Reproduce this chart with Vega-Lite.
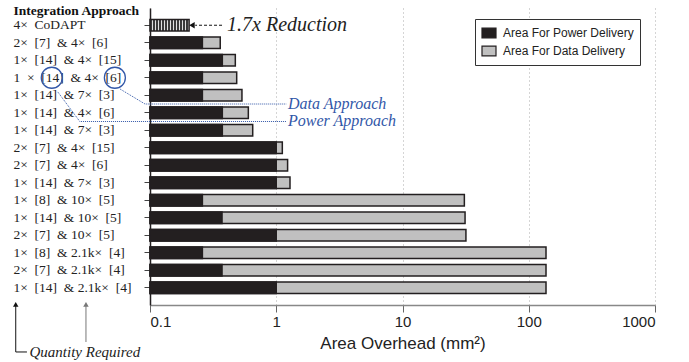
{
  "$schema": "https://vega.github.io/schema/vega-lite/v6.json",
  "width": 505,
  "height": 297,
  "autosize": {"type": "none"},
  "padding": {"left": 150, "top": 8, "right": 34, "bottom": 57},
  "background": "white",
  "config": {"view": {"stroke": null}},
  "datasets": {
    "bars": [
      {"label": "4×\u00a0 CoDAPT", "part": "CoDAPT", "value": 0.204},
      {"label": "2×\u00a0 [7] \u00a0& 4×\u00a0 [6]", "part": "Area For Data Delivery", "value": 0.36},
      {"label": "2×\u00a0 [7] \u00a0& 4×\u00a0 [6]", "part": "Area For Power Delivery", "value": 0.26},
      {"label": "1×\u00a0 [14] \u00a0& 4×\u00a0 [15]", "part": "Area For Data Delivery", "value": 0.474},
      {"label": "1×\u00a0 [14] \u00a0& 4×\u00a0 [15]", "part": "Area For Power Delivery", "value": 0.374},
      {"label": "1\u00a0 ×\u00a0 [14] \u00a0& 4×\u00a0 [6]", "part": "Area For Data Delivery", "value": 0.486},
      {"label": "1\u00a0 ×\u00a0 [14] \u00a0& 4×\u00a0 [6]", "part": "Area For Power Delivery", "value": 0.26},
      {"label": "1×\u00a0 [14] \u00a0& 7×\u00a0 [3]", "part": "Area For Data Delivery", "value": 0.535},
      {"label": "1×\u00a0 [14] \u00a0& 7×\u00a0 [3]", "part": "Area For Power Delivery", "value": 0.26},
      {"label": "1×\u00a0 [14] \u00a0& 4×\u00a0 [6]", "part": "Area For Data Delivery", "value": 0.601},
      {"label": "1×\u00a0 [14] \u00a0& 4×\u00a0 [6]", "part": "Area For Power Delivery", "value": 0.374},
      {"label": "1×\u00a0 [14] \u00a0& 7×\u00a0 [3]\u00a0", "part": "Area For Data Delivery", "value": 0.651},
      {"label": "1×\u00a0 [14] \u00a0& 7×\u00a0 [3]\u00a0", "part": "Area For Power Delivery", "value": 0.374},
      {"label": "2×\u00a0 [7] \u00a0& 4×\u00a0 [15]", "part": "Area For Data Delivery", "value": 1.117},
      {"label": "2×\u00a0 [7] \u00a0& 4×\u00a0 [15]", "part": "Area For Power Delivery", "value": 1.0},
      {"label": "2×\u00a0 [7] \u00a0& 4×\u00a0 [6]\u00a0", "part": "Area For Data Delivery", "value": 1.23},
      {"label": "2×\u00a0 [7] \u00a0& 4×\u00a0 [6]\u00a0", "part": "Area For Power Delivery", "value": 1.0},
      {"label": "1×\u00a0 [14] \u00a0& 7×\u00a0 [3]\u00a0\u00a0", "part": "Area For Data Delivery", "value": 1.285},
      {"label": "1×\u00a0 [14] \u00a0& 7×\u00a0 [3]\u00a0\u00a0", "part": "Area For Power Delivery", "value": 1.0},
      {"label": "1×\u00a0 [8] \u00a0& 10×\u00a0 [5]", "part": "Area For Data Delivery", "value": 30.9},
      {"label": "1×\u00a0 [8] \u00a0& 10×\u00a0 [5]", "part": "Area For Power Delivery", "value": 0.26},
      {"label": "1×\u00a0 [14] \u00a0& 10×\u00a0 [5]", "part": "Area For Data Delivery", "value": 31.3},
      {"label": "1×\u00a0 [14] \u00a0& 10×\u00a0 [5]", "part": "Area For Power Delivery", "value": 0.372},
      {"label": "2×\u00a0 [7] \u00a0& 10×\u00a0 [5]", "part": "Area For Data Delivery", "value": 31.8},
      {"label": "2×\u00a0 [7] \u00a0& 10×\u00a0 [5]", "part": "Area For Power Delivery", "value": 1.0},
      {"label": "1×\u00a0 [8] \u00a0& 2.1k×\u00a0 [4]", "part": "Area For Data Delivery", "value": 137},
      {"label": "1×\u00a0 [8] \u00a0& 2.1k×\u00a0 [4]", "part": "Area For Power Delivery", "value": 0.26},
      {"label": "2×\u00a0 [7] \u00a0& 2.1k×\u00a0 [4]", "part": "Area For Data Delivery", "value": 137},
      {"label": "2×\u00a0 [7] \u00a0& 2.1k×\u00a0 [4]", "part": "Area For Power Delivery", "value": 0.372},
      {"label": "1×\u00a0 [14] \u00a0& 2.1k×\u00a0 [4]", "part": "Area For Data Delivery", "value": 137},
      {"label": "1×\u00a0 [14] \u00a0& 2.1k×\u00a0 [4]", "part": "Area For Power Delivery", "value": 1.0}
    ],
    "notes": [
      {"g": "reduce", "seq": 1, "x": 0.372, "x2": 0.228, "pos": 0},
      {"g": "reduceHead", "seq": 1, "x": 0.215, "pos": 0},
      {"g": "reduceText", "seq": 1, "x": 0.408, "pos": 0, "text": "1.7x Reduction"},
      {"g": "circle", "seq": 1, "x": 0.01667, "pos": 3},
      {"g": "circle", "seq": 2, "x": 0.0527, "pos": 3},
      {"g": "data", "seq": 1, "x": 0.0578, "pos": 3.64},
      {"g": "data", "seq": 2, "x": 0.0913, "pos": 4.5},
      {"g": "data", "seq": 3, "x": 1.2, "pos": 4.5},
      {"g": "power", "seq": 1, "x": 0.0186, "pos": 3.81},
      {"g": "power", "seq": 2, "x": 0.0278, "pos": 5.5},
      {"g": "power", "seq": 3, "x": 1.2, "pos": 5.5},
      {"g": "approachText", "seq": 1, "x": 1.24, "pos": 4.5, "text": "Data Approach"},
      {"g": "approachText", "seq": 2, "x": 1.24, "pos": 5.5, "text": "Power Approach"},
      {"g": "q1", "seq": 1, "x": 0.00864, "pos": 16.0},
      {"g": "q1", "seq": 2, "x": 0.00864, "pos": 18.67},
      {"g": "q1", "seq": 3, "x": 0.0106, "pos": 18.67},
      {"g": "q2", "seq": 1, "x": 0.0311, "pos": 16.0},
      {"g": "q2", "seq": 2, "x": 0.0311, "pos": 18.1},
      {"g": "q1Head", "seq": 1, "x": 0.00864, "pos": 15.95},
      {"g": "q2Head", "seq": 1, "x": 0.0311, "pos": 15.95},
      {"g": "qText", "seq": 1, "x": 0.0111, "pos": 18.67, "text": "Quantity Required"}
    ]
  },
  "resolve": {"scale": {"y": "independent"}, "axis": {"y": "independent"}},
  "layer": [
    {
      "data": {"name": "bars"},
      "mark": {"type": "bar", "orient": "horizontal", "height": {"band": 0.67}, "stroke": "#231f20", "strokeWidth": 1.5},
      "encoding": {
        "y": {
          "field": "label", "type": "nominal", "sort": null,
          "scale": {"paddingInner": 0, "paddingOuter": 0.4857},
          "axis": {
            "title": "Integration Approach", "titleAngle": 0, "titleAlign": "left", "titleBaseline": "middle",
            "titleX": -137, "titleY": 2, "titleFont": "Liberation Serif", "titleFontSize": 13.5, "titleFontWeight": "bold", "titleColor": "#111",
            "labelAlign": "left", "labelBaseline": "middle", "labelPadding": 131, "labelLimit": 200,
            "labelFont": "Liberation Serif", "labelFontSize": 13.5, "labelColor": "#222",
            "domainColor": "#231f20", "domainWidth": 1.5, "tickColor": "#444", "tickSize": 6, "grid": false
          }
        },
        "x": {
          "field": "value", "type": "quantitative", "stack": null,
          "scale": {"type": "log", "domain": [0.1, 1000]},
          "axis": {
            "values": [0.1, 1, 10, 100, 1000], "format": "~g",
            "grid": true, "gridDash": [1, 3], "gridColor": "#aaa",
            "domainColor": "#888", "domainWidth": 1.5, "tickColor": "#666", "tickSize": 7,
            "labelFont": "Liberation Sans", "labelFontSize": 15, "labelColor": "#222", "labelPadding": 2,
            "title": "Area Overhead (mm²)", "titleFont": "Liberation Sans", "titleFontSize": 17,
            "titleFontWeight": "normal", "titleColor": "#222", "titlePadding": 6
          }
        },
        "x2": {"datum": 0.1},
        "fill": {
          "condition": {
            "test": "datum.part === 'CoDAPT'",
            "value": {
              "gradient": "linear", "x1": 0, "y1": 0, "x2": 1, "y2": 0,
              "stops": [
                {"offset": 0, "color": "#3a3a3a"}, {"offset": 0.0385, "color": "#3a3a3a"}, {"offset": 0.0385, "color": "#e0e0e0"}, {"offset": 0.0769, "color": "#e0e0e0"},
                {"offset": 0.0769, "color": "#3a3a3a"}, {"offset": 0.1154, "color": "#3a3a3a"}, {"offset": 0.1154, "color": "#e0e0e0"}, {"offset": 0.1538, "color": "#e0e0e0"},
                {"offset": 0.1538, "color": "#3a3a3a"}, {"offset": 0.1923, "color": "#3a3a3a"}, {"offset": 0.1923, "color": "#e0e0e0"}, {"offset": 0.2308, "color": "#e0e0e0"},
                {"offset": 0.2308, "color": "#3a3a3a"}, {"offset": 0.2692, "color": "#3a3a3a"}, {"offset": 0.2692, "color": "#e0e0e0"}, {"offset": 0.3077, "color": "#e0e0e0"},
                {"offset": 0.3077, "color": "#3a3a3a"}, {"offset": 0.3462, "color": "#3a3a3a"}, {"offset": 0.3462, "color": "#e0e0e0"}, {"offset": 0.3846, "color": "#e0e0e0"},
                {"offset": 0.3846, "color": "#3a3a3a"}, {"offset": 0.4231, "color": "#3a3a3a"}, {"offset": 0.4231, "color": "#e0e0e0"}, {"offset": 0.4615, "color": "#e0e0e0"},
                {"offset": 0.4615, "color": "#3a3a3a"}, {"offset": 0.5, "color": "#3a3a3a"}, {"offset": 0.5, "color": "#e0e0e0"}, {"offset": 0.5385, "color": "#e0e0e0"},
                {"offset": 0.5385, "color": "#3a3a3a"}, {"offset": 0.5769, "color": "#3a3a3a"}, {"offset": 0.5769, "color": "#e0e0e0"}, {"offset": 0.6154, "color": "#e0e0e0"},
                {"offset": 0.6154, "color": "#3a3a3a"}, {"offset": 0.6538, "color": "#3a3a3a"}, {"offset": 0.6538, "color": "#e0e0e0"}, {"offset": 0.6923, "color": "#e0e0e0"},
                {"offset": 0.6923, "color": "#3a3a3a"}, {"offset": 0.7308, "color": "#3a3a3a"}, {"offset": 0.7308, "color": "#e0e0e0"}, {"offset": 0.7692, "color": "#e0e0e0"},
                {"offset": 0.7692, "color": "#3a3a3a"}, {"offset": 0.8077, "color": "#3a3a3a"}, {"offset": 0.8077, "color": "#e0e0e0"}, {"offset": 0.8462, "color": "#e0e0e0"},
                {"offset": 0.8462, "color": "#3a3a3a"}, {"offset": 0.8846, "color": "#3a3a3a"}, {"offset": 0.8846, "color": "#e0e0e0"}, {"offset": 0.9231, "color": "#e0e0e0"},
                {"offset": 0.9231, "color": "#3a3a3a"}, {"offset": 0.9615, "color": "#3a3a3a"}, {"offset": 0.9615, "color": "#e0e0e0"}, {"offset": 1, "color": "#e0e0e0"}
              ]
            }
          },
          "field": "part", "type": "nominal",
          "scale": {"domain": ["Area For Power Delivery", "Area For Data Delivery"], "range": ["#231f20", "#c0c0c0"]},
          "legend": {
            "title": null, "orient": "none", "legendX": 325, "legendY": 11,
            "strokeColor": "#333", "fillColor": "white", "padding": 6,
            "symbolType": "M-1,-0.7H1V0.7H-1Z", "symbolSize": 196, "symbolStrokeColor": "#231f20", "symbolStrokeWidth": 1.2,
            "labelFont": "Liberation Sans", "labelFontSize": 12, "labelColor": "#222", "labelOffset": 6, "rowPadding": 2, "labelLimit": 200
          }
        }
      }
    },
    {
      "data": {"name": "notes"},
      "encoding": {
        "y": {"field": "pos", "type": "quantitative", "scale": {"domain": [-0.9857, 15.9857], "reverse": true, "nice": false, "zero": false}, "axis": null}
      },
      "layer": [
        {
          "transform": [{"filter": "datum.g === 'reduce'"}],
          "mark": {"type": "rule", "stroke": "#111", "strokeWidth": 1, "strokeDash": [3, 2]},
          "encoding": {
            "x": {"field": "x", "type": "quantitative", "scale": {"type": "log", "domain": [0.1, 1000]}},
            "x2": {"field": "x2"}
          }
        },
        {
          "transform": [{"filter": "datum.g === 'reduceHead'"}],
          "mark": {"type": "point", "shape": "triangle-left", "filled": true, "fill": "#111", "size": 40, "opacity": 1},
          "encoding": {"x": {"field": "x", "type": "quantitative", "scale": {"type": "log", "domain": [0.1, 1000]}}}
        },
        {
          "transform": [{"filter": "datum.g === 'reduceText'"}],
          "mark": {"type": "text", "align": "left", "baseline": "middle", "font": "Liberation Serif", "fontStyle": "italic", "fontSize": 20, "fill": "#222"},
          "encoding": {"x": {"field": "x", "type": "quantitative", "scale": {"type": "log", "domain": [0.1, 1000]}}, "text": {"field": "text"}}
        },
        {
          "transform": [{"filter": "datum.g === 'circle'"}],
          "mark": {"type": "point", "shape": "circle", "filled": false, "stroke": "#3257a8", "strokeWidth": 1.3, "size": 441, "opacity": 1},
          "encoding": {"x": {"field": "x", "type": "quantitative", "scale": {"type": "log", "domain": [0.1, 1000]}}}
        },
        {
          "transform": [{"filter": "datum.g === 'data' || datum.g === 'power'"}],
          "mark": {"type": "line", "stroke": "#3257a8", "strokeWidth": 1, "strokeDash": [1, 1]},
          "encoding": {
            "x": {"field": "x", "type": "quantitative", "scale": {"type": "log", "domain": [0.1, 1000]}},
            "detail": {"field": "g"},
            "order": {"field": "seq"}
          }
        },
        {
          "transform": [{"filter": "datum.g === 'approachText'"}],
          "mark": {"type": "text", "align": "left", "baseline": "middle", "font": "Liberation Serif", "fontStyle": "italic", "fontSize": 16, "fill": "#3257a8"},
          "encoding": {"x": {"field": "x", "type": "quantitative", "scale": {"type": "log", "domain": [0.1, 1000]}}, "text": {"field": "text"}}
        },
        {
          "transform": [{"filter": "datum.g === 'q1'"}],
          "mark": {"type": "line", "stroke": "#111", "strokeWidth": 1},
          "encoding": {
            "x": {"field": "x", "type": "quantitative", "scale": {"type": "log", "domain": [0.1, 1000]}},
            "order": {"field": "seq"}
          }
        },
        {
          "transform": [{"filter": "datum.g === 'q2'"}],
          "mark": {"type": "line", "stroke": "#777", "strokeWidth": 1},
          "encoding": {
            "x": {"field": "x", "type": "quantitative", "scale": {"type": "log", "domain": [0.1, 1000]}},
            "order": {"field": "seq"}
          }
        },
        {
          "transform": [{"filter": "datum.g === 'q1Head'"}],
          "mark": {"type": "point", "shape": "triangle-up", "filled": true, "fill": "#111", "size": 30, "opacity": 1},
          "encoding": {"x": {"field": "x", "type": "quantitative", "scale": {"type": "log", "domain": [0.1, 1000]}}}
        },
        {
          "transform": [{"filter": "datum.g === 'q2Head'"}],
          "mark": {"type": "point", "shape": "triangle-up", "filled": true, "fill": "#777", "size": 30, "opacity": 1},
          "encoding": {"x": {"field": "x", "type": "quantitative", "scale": {"type": "log", "domain": [0.1, 1000]}}}
        },
        {
          "transform": [{"filter": "datum.g === 'qText'"}],
          "mark": {"type": "text", "align": "left", "baseline": "middle", "font": "Liberation Serif", "fontStyle": "italic", "fontSize": 15, "fill": "#222"},
          "encoding": {"x": {"field": "x", "type": "quantitative", "scale": {"type": "log", "domain": [0.1, 1000]}}, "text": {"field": "text"}}
        }
      ]
    }
  ]
}
